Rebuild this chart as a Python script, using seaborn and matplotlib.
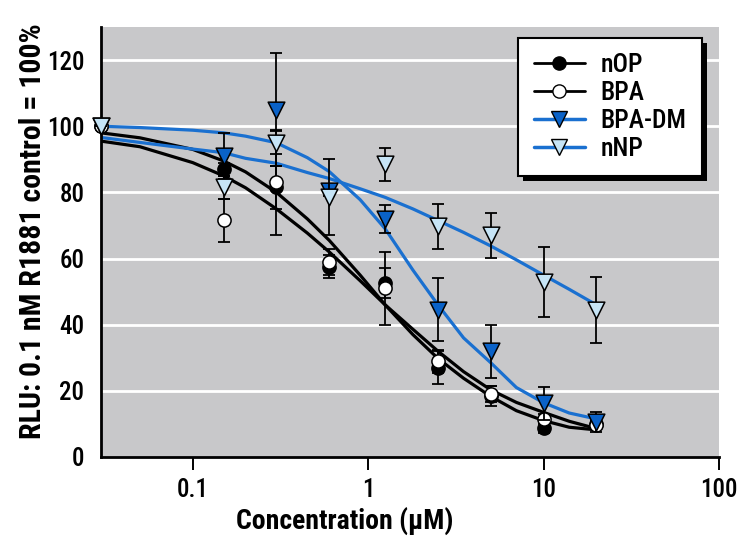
import matplotlib
matplotlib.use("Agg")
import matplotlib.pyplot as plt
from matplotlib import font_manager as fm
from matplotlib.lines import Line2D
from matplotlib.patches import Rectangle
from matplotlib.transforms import IdentityTransform
import seaborn as sns
import pandas as pd

# ---- data ----
conc = [0.03, 0.15, 0.3, 0.6, 1.25, 2.5, 5, 10, 20]

nop_mean = [100, 87, 81.5, 57.5, 52.5, 27, 18.5, 8.8, 10]
nop_err = [0, 2, 6.5, 3.5, 4.5, 5, 3, 1.5, 1]

bpa_mean = [100, 71.5, 83, 59, 51, 29, 19, 11.5, 9.8]
bpa_err = [0, 6.5, 16, 4, 11, 3.5, 2.5, 1.5, 1]

bpadm_mean = [100, 91, 105, 80.5, 72, 44.5, 32, 16.3, 10.7]
bpadm_err = [0, 7, 17, 1.5, 4.2, 9.5, 8, 5, 3]

nnp_mean = [100, 81.5, 95, 78.5, 88.5, 69.7, 67, 53, 44.5]
nnp_err = [0, 3.6, 3.5, 11.5, 5, 6.7, 6.8, 10.6, 10]

# fitted curves
curve_x = [0.03, 0.05, 0.1, 0.15, 0.2, 0.3, 0.45, 0.6, 0.9, 1.25, 1.8,
           2.5, 3.5, 5, 7, 10, 14, 20]
nop_curve = [98, 96.5, 93, 89.5, 86.2, 80, 72, 65.5, 55, 46, 37,
             29.8, 23.8, 18.3, 14, 11, 9, 8.2]
bpa_curve = [95.5, 93.8, 89, 85, 81.4, 75, 67.7, 62, 53.3, 46, 38.6,
             32, 25.8, 20.3, 16.5, 13.5, 10.8, 8.6]
bpadm_curve = [100, 99.6, 98.8, 98, 97, 95, 90.5, 86.3, 77.8, 69, 56.5,
               46, 36, 28.5, 21, 16.4, 13.3, 11.5]
nnp_curve = [96.6, 95.1, 93.1, 92, 90.3, 88.8, 86, 84.2, 81.1, 78.5, 75,
             71.5, 67.9, 63.8, 59.6, 55, 50.7, 46]

labels = ["nOP", "BPA", "BPA-DM", "nNP"]
xtick_vals = [0.1, 1, 10, 100]
xtick_labels = ["0.1", "1", "10", "100"]
ytick_vals = [0, 20, 40, 60, 80, 100, 120]

# ---- style ----
sns.set_theme(style="white")
available = {f.name for f in fm.fontManager.ttflist}
prefs = ["Roboto Condensed", "Archivo Narrow", "PT Sans Narrow",
         "Liberation Sans Narrow", "Liberation Sans"]
chosen = [p for p in prefs if p in available][:1]
plt.rcParams["font.family"] = chosen + ["DejaVu Sans"]

BG = "#c8c8ca"
BLUE_LINE = "#1a70d0"
DARK_BLUE = "#0a62c8"
LIGHT_BLUE = "#c6e4f6"

fig = plt.figure(figsize=(7.45, 5.55), dpi=100)
ax = fig.add_axes([101 / 745, 1 - 457 / 555, 618 / 745, 430 / 555])
ax.set_facecolor(BG)

curves = pd.DataFrame({
    "conc": curve_x * 4,
    "rlu": nop_curve + bpa_curve + bpadm_curve + nnp_curve,
    "compound": sum([[l] * len(curve_x) for l in labels], []),
})
line_colors = {"nOP": "black", "BPA": "black", "BPA-DM": BLUE_LINE, "nNP": BLUE_LINE}

for y in ytick_vals[1:]:
    ax.axhline(y, color="white", lw=2, zorder=0.5)

sns.lineplot(data=curves, x="conc", y="rlu", hue="compound", palette=line_colors,
             hue_order=labels, lw=2.3, legend=False, ax=ax, zorder=2,
             estimator=None, sort=True)

points = {
    "nOP": (nop_mean, nop_err, "o", "black", 9.5),
    "BPA": (bpa_mean, bpa_err, "o", "white", 9.5),
    "BPA-DM": (bpadm_mean, bpadm_err, "v", DARK_BLUE, 12),
    "nNP": (nnp_mean, nnp_err, "v", LIGHT_BLUE, 12),
}

z = 3
for name in labels:
    mean, err, mk, fc, ms = points[name]
    ax.errorbar(conc, mean, yerr=err, fmt="none", ecolor="black", elinewidth=1.3,
                capsize=4.5, capthick=1.3, zorder=z, clip_on=False)
    df = pd.DataFrame({"conc": conc, "rlu": mean})
    sns.scatterplot(data=df, x="conc", y="rlu", marker=mk, s=ms ** 2, color=fc,
                    edgecolor="black", linewidth=1.1, ax=ax, zorder=z + 0.5,
                    clip_on=False, legend=False)
    z += 1

ax.set_xscale("log")
ax.set_xlim(0.03, 100)
ax.set_ylim(0, 130)
ax.set_xticks(xtick_vals)
ax.set_xticklabels(xtick_labels)
ax.xaxis.set_minor_locator(matplotlib.ticker.NullLocator())
ax.set_yticks(ytick_vals)
ax.set_yticklabels([str(v) for v in ytick_vals])

for s in ["top", "right"]:
    ax.spines[s].set_visible(False)
for s in ["left", "bottom"]:
    ax.spines[s].set_color("black")
    ax.spines[s].set_linewidth(2)

ax.tick_params(axis="x", which="major", direction="out", length=9, width=1.4,
               color="black", pad=6, labelsize=18, bottom=True, labelcolor="black")
ax.tick_params(axis="y", length=0, pad=12, labelsize=18, labelcolor="black")
for t in ax.get_xticklabels() + ax.get_yticklabels():
    t.set_fontweight("medium")

ax.set_xlabel("Concentration (μM)", fontsize=20, fontweight="bold", color="black")
ax.xaxis.set_label_coords(0.395, -0.115)
ax.set_ylabel("RLU: 0.1 nM R1881 control = 100%", fontsize=21.5,
              fontweight="bold", color="black")
ax.yaxis.set_label_coords(-0.088, 0.526)

handles = [
    Line2D([], [], color="black", lw=2, marker="o", markersize=9.5,
           markerfacecolor="black", markeredgecolor="black"),
    Line2D([], [], color="black", lw=2, marker="o", markersize=9.5,
           markerfacecolor="white", markeredgecolor="black"),
    Line2D([], [], color=BLUE_LINE, lw=2.5, marker="v", markersize=12,
           markerfacecolor=DARK_BLUE, markeredgecolor="black"),
    Line2D([], [], color=BLUE_LINE, lw=2.5, marker="v", markersize=12,
           markerfacecolor=LIGHT_BLUE, markeredgecolor="black"),
]
leg = ax.legend(handles, labels, loc="upper right", bbox_to_anchor=(0.9725, 0.975),
                borderaxespad=0, fontsize=18.5, frameon=True, fancybox=False,
                shadow=False, handlelength=2.0, handletextpad=0.6,
                labelspacing=0.15, borderpad=0.6)
leg.get_frame().set_edgecolor("black")
leg.get_frame().set_linewidth(1.5)
leg.get_frame().set_facecolor("white")
leg.get_frame().set_alpha(1)
for t in leg.get_texts():
    t.set_color("black")
    t.set_fontweight("medium")
leg.set_zorder(20)

# drop shadow behind the legend box
fig.canvas.draw()
bb = leg.get_window_extent()
shadow = Rectangle((bb.x0 + 5, bb.y0 - 5), bb.width, bb.height,
                   transform=IdentityTransform(), facecolor="black",
                   edgecolor="none", zorder=15, clip_on=False)
ax.add_artist(shadow)

fig.savefig("out.png", dpi=100)
